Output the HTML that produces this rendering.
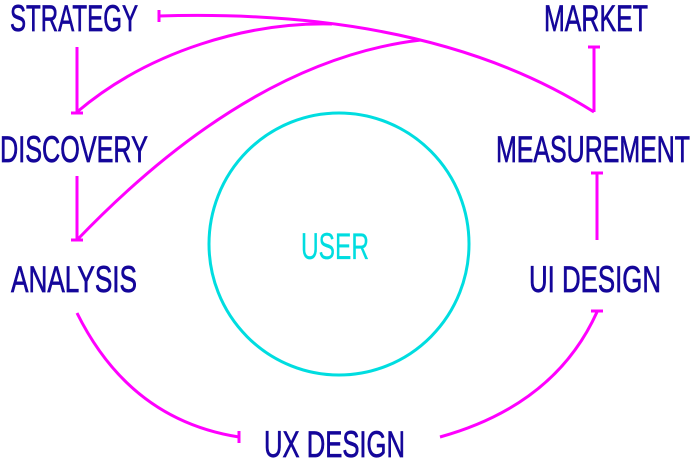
<!DOCTYPE html>
<html><head><meta charset="utf-8"><style>
html,body{margin:0;padding:0;background:#fff;width:692px;height:460px;overflow:hidden}
text{font-family:"Liberation Sans Narrow","Liberation Sans",sans-serif;font-size:37px;fill:#14069a;stroke:#14069a;stroke-width:0.7}
</style></head><body>
<svg width="692" height="460" viewBox="0 0 692 460" xmlns="http://www.w3.org/2000/svg">
<g fill="none" stroke="#ff00ff" stroke-width="3">
<path d="M159,16 Q430,8 594,112"/>
<path d="M159,10 V22"/>
<path d="M77,112 C150,50 250,22 332,24"/>
<path d="M77,240 Q250,60 421,40"/>
<path d="M77,47 V113 M71,113 H83"/>
<path d="M77,176 V240 M71,240 H83"/>
<path d="M594,47 V112 M588,47 H600"/>
<path d="M597,173 V240 M591,173 H603"/>
<path d="M77,313 Q130,420 239,437 M239,431 V443"/>
<path d="M440,437 Q555,405 597,312 M591,311 H603"/>
</g>
<ellipse cx="339" cy="244" rx="130" ry="131" fill="none" stroke="#00dde0" stroke-width="3"/>
<text x="10" y="31" textLength="128" lengthAdjust="spacingAndGlyphs">STRATEGY</text>
<text x="544" y="31" textLength="104" lengthAdjust="spacingAndGlyphs">MARKET</text>
<text x="0" y="162" textLength="148" lengthAdjust="spacingAndGlyphs">DISCOVERY</text>
<text x="496" y="162" textLength="194" lengthAdjust="spacingAndGlyphs">MEASUREMENT</text>
<text x="301" y="259" textLength="68" lengthAdjust="spacingAndGlyphs" style="fill:#00dde0;stroke:#00dde0;stroke-width:0.3;font-size:37px">USER</text>
<text x="11" y="292" textLength="126" lengthAdjust="spacingAndGlyphs">ANALYSIS</text>
<text x="529" y="292" textLength="132" lengthAdjust="spacingAndGlyphs">UI DESIGN</text>
<text x="264" y="457" textLength="141" lengthAdjust="spacingAndGlyphs">UX DESIGN</text>
</svg>
</body></html>
